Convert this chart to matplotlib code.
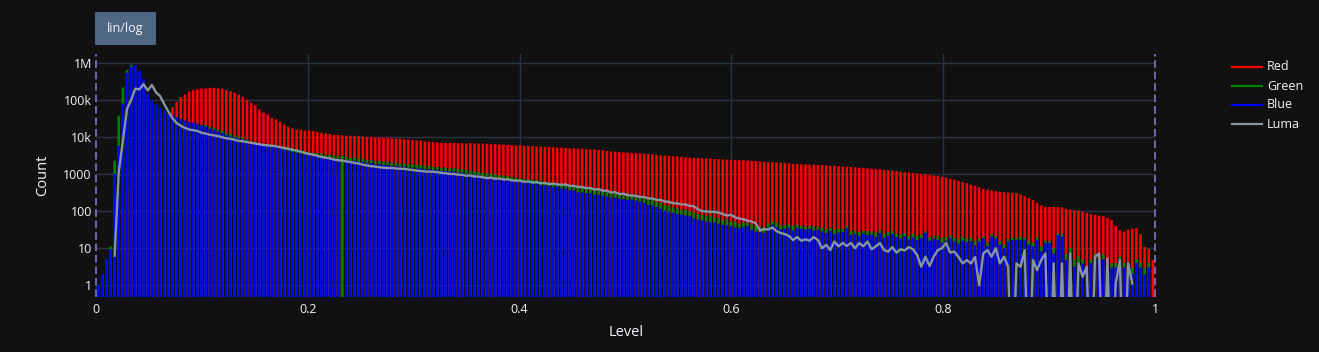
import numpy as np
import matplotlib
matplotlib.use("Agg")
import matplotlib.pyplot as plt
from matplotlib.lines import Line2D
from matplotlib.patches import FancyBboxPatch

plt.rcParams['font.family'] = ['Open Sans', 'DejaVu Sans']

# ---------------- data: log10(count) per level bin (256 bins over 0..1) -------------
# None = no bar / no point; Z = empty bin (count 0, falls below the log-axis floor)
Z = -3.0
N_BINS = 256

red_log = [
    None, None, None, None, 0.5, 1.2, 2.0, 2.6, 3.1, 3.5, 3.8, 4.0, 4.2, 4.35, 4.45, 4.52,
    4.57, 4.6, 4.8, 4.94, 5.07, 5.14, 5.22, 5.26, 5.28, 5.3, 5.3, 5.32, 5.32, 5.31, 5.3, 5.26,
    5.23, 5.19, 5.14, 5.08, 5.0, 4.92, 4.85, 4.74, 4.65, 4.6,
    4.51, 4.47, 4.41, 4.33, 4.27, 4.23, 4.2, 4.19, 4.17, 4.17, 4.16, 4.14, 4.11, 4.09, 4.08, 4.05,
    4.05, 4.04, 4.03, 4.03, 4.03, 4.02, 4.01, 4.0, 3.99, 3.98, 3.98, 3.97, 3.97, 3.96, 3.95, 3.95,
    3.93, 3.93, 3.91, 3.9, 3.9, 3.88, 3.87, 3.86, 3.85, 3.84, 3.84,
    3.84, 3.84, 3.83, 3.83, 3.82, 3.83, 3.82, 3.82, 3.82, 3.81, 3.8, 3.8, 3.79, 3.79, 3.78, 3.78,
    3.77, 3.77, 3.76, 3.76, 3.75, 3.74, 3.74, 3.73, 3.73, 3.72, 3.71, 3.71, 3.7, 3.69, 3.69, 3.68,
    3.68, 3.67, 3.66, 3.66, 3.65, 3.64, 3.62, 3.61, 3.6, 3.59, 3.58, 3.57,
    3.57, 3.56, 3.56, 3.55, 3.54, 3.53, 3.52, 3.5, 3.5, 3.49, 3.48, 3.47, 3.46, 3.45, 3.44, 3.43,
    3.43, 3.42, 3.42, 3.41, 3.4, 3.4, 3.39, 3.39, 3.38, 3.38, 3.37, 3.37, 3.36, 3.35, 3.35, 3.34,
    3.33, 3.32, 3.32, 3.31, 3.3, 3.3, 3.28, 3.27, 3.27, 3.26, 3.26,
    3.25, 3.25, 3.24, 3.24, 3.23, 3.22, 3.22, 3.21, 3.2, 3.2, 3.19, 3.18, 3.17, 3.16, 3.15, 3.14,
    3.13, 3.13, 3.11, 3.1, 3.09, 3.08, 3.06, 3.05, 3.04, 3.03, 3.01, 3.0, 2.99, 2.98, 2.96, 2.95,
    2.92, 2.9, 2.87, 2.85, 2.81, 2.78, 2.75, 2.71, 2.68, 2.64, 2.6,
    2.58, 2.56, 2.54, 2.52, 2.51, 2.5, 2.49, 2.49, 2.45, 2.4, 2.35, 2.3, 2.22, 2.15, 2.12, 2.11,
    2.11, 2.11, 2.1, 2.06, 2.04, 2.03, 2.02, 1.98, 1.95, 1.92, 1.9, 1.88, 1.86, 1.81, 1.76, 1.6,
    1.48, 1.45, 1.5, 1.52, 1.54, 1.38, 1.03, 0.98, 0.68,
]

green_log = [
    0.0, 0.3, 0.7, 1.05, 3.36, 4.57, 5.33, 5.8, 5.94, 5.9, 5.74, 5.53, 5.15, 4.97, 4.85, 4.75,
    4.67, 4.6, 4.55, 4.5, 4.46, 4.42, 4.39, 4.36, 4.34, 4.33, 4.32, 4.27, 4.24, 4.2, 4.16, 4.1,
    4.07, 4.04, 4.0, 3.97, 3.94, 3.9, 3.87, 3.84, 3.82, 3.8, 3.79,
    3.78, 3.76, 3.72, 3.7, 3.67, 3.65, 3.63, 3.6, 3.6, 3.57, 3.56, 3.55, 3.52, 3.52, 3.5, 3.49,
    3.5, 3.46, 3.43, 3.44, 3.41, 3.41, 3.38, 3.38, 3.35, 3.35, 3.33, 3.33, 3.3, 3.31, 3.28, 3.29,
    3.26, 3.26, 3.24, 3.24, 3.21, 3.22, 3.19, 3.2, 3.17, 3.17, 3.15,
    3.16, 3.14, 3.13, 3.11, 3.09, 3.07, 3.06, 3.04, 3.02, 3.01, 2.99, 2.97, 2.96, 2.94, 2.92, 2.9,
    2.89, 2.87, 2.86, 2.84, 2.83, 2.81, 2.79, 2.78, 2.76, 2.75, 2.73, 2.71, 2.69, 2.66, 2.64, 2.62,
    2.61, 2.59, 2.57, 2.56, 2.54, 2.52, 2.5, 2.48, 2.46, 2.44, 2.42,
    2.44, 2.42, 2.38, 2.35, 2.3, 2.3, 2.25, 2.22, 2.16, 2.15, 2.1, 2.08, 2.04, 2.04, 2.0, 1.96,
    1.92, 1.9, 1.86, 1.87, 1.82, 1.82, 1.76, 1.78, 1.72, 1.72, 1.67, 1.7, 1.7, 1.64, 1.6, 1.58,
    1.56, 1.66, 1.72, 1.68, 1.62, 1.63, 1.64, 1.6, 1.63, 1.6, 1.58,
    1.6, 1.58, 1.58, 1.55, 1.52, 1.54, 1.5, 1.52, 1.52, 1.6, 1.46, 1.48, 1.44, 1.48, 1.46, 1.46,
    1.42, 1.5, 1.4, 1.44, 1.46, 1.4, 1.37, 1.4, 1.34, 1.38, 1.34, 1.37, 1.46, 1.3, 1.34, 1.33,
    1.28, 1.3, 1.34, 1.28, 1.24, 1.3, 1.26, 1.28, 1.2, 1.27, 1.32,
    1.15, 1.38, 1.32, 1.2, 1.1, 1.25, 1.28, 1.28, 1.3, 1.28, 1.2, 1.15, 1.3, 1.05, 1.2, 1.2,
    1.0, 1.4, 1.38, 0.85, 1.0, 0.7, 0.78, 0.7, 0.48, 0.7, 0.85, 0.78, 0.85, None, 0.6, 0.6,
    0.78, 0.6, 0.6, 0.48, 0.7, 0.6, 0.48, 0.6, None,
]

blue_log = [
    0.0, 0.3, 0.7, 0.97, 3.0, 3.76, 4.9, 5.73, 5.88, 5.93, 5.78, 5.57, 5.18, 5.0, 4.88, 4.78,
    4.7, 4.63, 4.58, 4.53, 4.48, 4.44, 4.4, 4.38, 4.35, 4.31, 4.28, 4.22, 4.19, 4.15, 4.1, 4.05,
    4.01, 3.98, 3.95, 3.93, 3.9, 3.86, 3.83, 3.8, 3.78, 3.76, 3.74,
    3.72, 3.7, 3.65, 3.63, 3.6, 3.57, 3.56, 3.52, 3.52, 3.49, 3.48, 3.47, 3.44, 3.44, 3.41, 3.41,
    None, 3.38, 3.35, 3.35, 3.32, 3.32, 3.29, 3.29, 3.26, 3.26, 3.24, 3.24, 3.21, 3.22, 3.19, 3.2,
    3.17, 3.17, 3.15, 3.15, 3.12, 3.13, 3.1, 3.11, 3.08, 3.08, 3.06,
    3.06, 3.03, 3.04, 3.0, 2.99, 2.96, 2.97, 2.93, 2.93, 2.9, 2.89, 2.86, 2.87, 2.83, 2.82, 2.79,
    2.8, 2.76, 2.77, 2.73, 2.74, 2.7, 2.69, 2.68, 2.64, 2.66, 2.61, 2.61, 2.56, 2.56, 2.51, 2.5,
    2.48, 2.48, 2.44, 2.44, 2.41, 2.39, 2.36, 2.36, 2.33, 2.32, 2.3,
    2.32, 2.28, 2.26, 2.22, 2.17, 2.15, 2.11, 2.06, 2.01, 1.98, 1.95, 1.92, 1.9, 1.88, 1.86, 1.8,
    1.77, 1.74, 1.72, 1.7, 1.69, 1.66, 1.63, 1.61, 1.59, 1.56, 1.54, 1.57, 1.59, 1.5, 1.45, 1.43,
    1.41, 1.55, 1.63, 1.56, 1.5, 1.52, 1.54, 1.47, 1.54, 1.52, 1.5,
    1.52, 1.48, 1.5, 1.45, 1.41, 1.46, 1.38, 1.42, 1.44, 1.54, 1.36, 1.38, 1.33, 1.4, 1.36, 1.36,
    1.3, 1.41, 1.28, 1.33, 1.38, 1.3, 1.26, 1.32, 1.24, 1.29, 1.22, 1.27, 1.41, 1.2, 1.25, 1.23,
    1.14, 1.2, 1.27, 1.18, 1.12, 1.2, 1.16, 1.18, 1.08, 1.17, 1.27,
    1.05, 1.32, 1.27, 1.09, 1.0, 1.18, 1.23, 1.23, 1.23, 1.23, 1.09, 1.05, 1.23, 0.91, 1.14, 1.14,
    0.86, 1.36, 1.32, 0.68, 0.86, 0.5, 0.59, 0.59, 0.3, 0.6, 0.78, 0.7, 0.7, None, 0.48, 0.48,
    0.7, 0.48, 0.48, 0.3, 0.6, 0.48, 0.3, 0.48, None,
]

luma_log = [
    None, None, None, None, 0.8, 3.05, 3.9, 4.75, 5.0, 5.3, 5.28, 5.42, 5.25, 5.4, 5.2, 5.1,
    4.88, 4.68, 4.5, 4.37, 4.3, 4.24, 4.2, 4.18, 4.16, 4.11, 4.09, 4.06, 4.04, 4.02, 3.99, 3.96,
    3.95, 3.92, 3.89, 3.88, 3.86, 3.84, 3.82, 3.8, 3.78, 3.77, 3.76,
    3.75, 3.72, 3.7, 3.68, 3.65, 3.63, 3.6, 3.57, 3.54, 3.52, 3.49, 3.46, 3.44, 3.42, 3.39, 3.37,
    3.36, 3.34, 3.32, 3.3, 3.28, 3.25, 3.23, 3.21, 3.2, 3.18, 3.17, 3.16, 3.16, 3.15, 3.14, 3.14,
    3.12, 3.11, 3.09, 3.08, 3.07, 3.06, 3.06, 3.05, 3.03, 3.02, 3.0,
    3.0, 2.98, 2.98, 2.95, 2.96, 2.93, 2.93, 2.91, 2.89, 2.9, 2.87, 2.88, 2.85, 2.86, 2.83, 2.82,
    2.82, 2.79, 2.8, 2.77, 2.78, 2.75, 2.76, 2.73, 2.74, 2.72, 2.71, 2.72, 2.68, 2.68, 2.65, 2.65,
    2.62, 2.62, 2.58, 2.59, 2.55, 2.55, 2.5, 2.51, 2.46, 2.47, 2.43,
    2.42, 2.41, 2.38, 2.38, 2.34, 2.34, 2.3, 2.3, 2.26, 2.25, 2.21, 2.21, 2.18, 2.18, 2.14, 2.13,
    2.05, 2.0, 1.99, 1.98, 1.98, 1.96, 1.92, 1.88, 1.9, 1.83, 1.8, 1.78, 1.74, 1.72, 1.67, 1.47,
    1.52, 1.5, 1.56, 1.46, 1.41, 1.38, 1.33, 1.22, 1.3, 1.2, 1.24,
    1.2, 1.3, 1.22, 1.0, 1.09, 0.95, 1.18, 1.05, 1.14, 1.06, 1.14, 1.0, 1.14, 1.05, 1.18, 0.97,
    1.05, 1.14, 0.95, 0.91, 1.03, 0.88, 0.97, 0.94, 1.03, 0.97, 0.82, 0.5, 0.77, 0.52, 0.77, 0.95,
    1.0, 1.14, 0.88, 0.91, 0.76, 0.59, 0.68, 0.59, 0.76, 0.0,
    0.86, 0.95, 0.77, 1.0, 0.59, 0.77, 0.5, Z, 0.59, 0.5, 0.95, Z, 0.68, 0.41, 0.68, 0.86,
    Z, 0.59, Z, 0.59, Z, 0.86, Z, 0.59, 0.23, 0.5, Z, 0.77, 0.86, Z, 0.73, Z,
    0.05, 0.68, Z, 0.59, 0.05, None, None, None, None, None,
]

series_names = ["Red", "Green", "Blue", "Luma"]
series_colors = ["#ff0000", "#008000", "#0000ff", "#8795a3"]

y_tick_values = [1, 10, 100, 1000, 1e4, 1e5, 1e6]
y_tick_labels = ["1", "10", "100", "1000", "10k", "100k", "1M"]
x_tick_values = [0, 0.2, 0.4, 0.6, 0.8, 1]
x_tick_labels = ["0", "0.2", "0.4", "0.6", "0.8", "1"]

for nm, arr in zip(series_names, [red_log, green_log, blue_log, luma_log]):
    assert len(arr) == N_BINS, (nm, len(arr))

# ---------------- figure ----------------
W, H = 1319, 352
BG = "#111111"
GRID = "#283442"
TXT = "#f2f5fa"

fig = plt.figure(figsize=(W / 100, H / 100), dpi=100, facecolor=BG)
L, R, T, B = 96, 1155, 54, 297
ax = fig.add_axes([L / W, 1 - B / H, (R - L) / W, (B - T) / H])
ax.set_facecolor(BG)
ax.set_yscale("log")
ax.set_xlim(0, 1)
ax.set_ylim(0.484, 1.71e6)

bin_w = 1.0 / N_BINS
centers = (np.arange(N_BINS) + 0.5) * bin_w

def bars(arr, color, z):
    idx = [i for i, v in enumerate(arr) if v is not None]
    xs = centers[idx]
    hs = np.array([10.0 ** arr[i] for i in idx])
    cont = ax.bar(xs, hs - 1e-3, bottom=1e-3, width=bin_w * 0.62, color=color,
                  linewidth=0, zorder=z, antialiased=True)
    for p in cont.patches:
        p.set_snap(False)

bars(red_log, series_colors[0], 2)
bars(green_log, series_colors[1], 3)
bars(blue_log, series_colors[2], 4)

luma = np.array([np.nan if v is None else 10.0 ** v for v in luma_log])
ax.plot(centers, luma, color=series_colors[3], lw=1.7, zorder=5,
        solid_joinstyle="round")

# grid
for yv in y_tick_values:
    ax.axhline(yv, color=GRID, lw=1, zorder=0)
for xv in x_tick_values[1:-1]:
    ax.axvline(xv, color=GRID, lw=1, zorder=0)
# dashed boundary lines at 0 and 1
for xv in (0, 1):
    ax.axvline(xv, color="#8a7fe0", lw=1.1, ls=(0, (5, 2.5)), zorder=6, clip_on=False)

ax.set_yticks(y_tick_values)
ax.set_yticklabels(y_tick_labels)
ax.yaxis.set_minor_locator(matplotlib.ticker.NullLocator())
ax.set_xticks(x_tick_values)
ax.set_xticklabels(x_tick_labels)
ax.tick_params(axis="both", length=0, labelsize=9, labelcolor=TXT)
ax.tick_params(axis="y", pad=3)
ax.tick_params(axis="x", pad=4)
for s in ax.spines.values():
    s.set_visible(False)

fig.text(43 / W, 1 - 175 / H, "Count", rotation=90, ha="center", va="center",
         fontsize=10.5, color=TXT)
fig.text(626 / W, 1 - 333 / H, "Level", ha="center", va="center",
         fontsize=10.5, color=TXT)

# legend (lines)
for k, (nm, c) in enumerate(zip(series_names, series_colors)):
    yy = 1 - (67 + 19 * k) / H
    fig.add_artist(Line2D([1232 / W, 1262 / W], [yy, yy], color=c, lw=1.6,
                          transform=fig.transFigure))
    fig.text(1267 / W, yy, nm, ha="left", va="center", fontsize=9, color=TXT)

# lin/log button
btn = FancyBboxPatch((95 / W, 1 - 45 / H), 61 / W, 33 / H,
                     boxstyle="round,pad=0,rounding_size=0.002",
                     fc="#506784", ec="none", transform=fig.transFigure)
fig.add_artist(btn)
fig.text(125.5 / W, 1 - 28.5 / H, "lin/log", ha="center", va="center",
         fontsize=9, color=TXT)

fig.savefig("out.png", dpi=100, facecolor=BG)
